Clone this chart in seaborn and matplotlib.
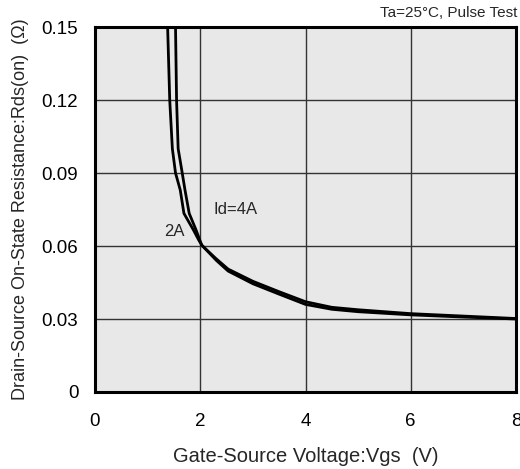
import matplotlib
matplotlib.use("Agg")
import matplotlib.pyplot as plt
import seaborn as sns
import pandas as pd

# Data
vgs_2a = [1.38, 1.42, 1.47, 1.53, 1.62, 1.69, 1.87, 1.97, 2.03, 2.3, 2.53, 3.0, 3.5, 4.0, 4.5, 5.0, 6.0, 7.0, 8.0]
rds_2a = [0.150, 0.120, 0.100, 0.090, 0.083, 0.0734, 0.0666, 0.0625, 0.0603, 0.0548, 0.0505, 0.0455, 0.0412,
          0.0371, 0.0348, 0.0338, 0.0322, 0.0312, 0.0302]
vgs_4a = [1.53, 1.55, 1.58, 1.65, 1.71, 1.79, 1.92, 1.99, 2.03, 2.31, 2.53, 3.0, 3.5, 4.0, 4.5, 5.0, 6.0, 7.0, 8.0]
rds_4a = [0.150, 0.120, 0.100, 0.091, 0.083, 0.0734, 0.0666, 0.0625, 0.0603, 0.0540, 0.0497, 0.0445, 0.0402,
          0.0360, 0.0340, 0.0330, 0.0317, 0.0308, 0.0300]
x_ticks = [0, 2, 4, 6, 8]
y_ticks = [0, 0.03, 0.06, 0.09, 0.12, 0.15]
y_tick_labels = ["0", "0.03", "0.06", "0.09", "0.12", "0.15"]

sns.set_style("white")
plt.rcParams['font.family'] = ['Liberation Sans', 'DejaVu Sans']

fig = plt.figure(figsize=(5.2, 4.69), dpi=100)
ax = fig.add_axes([95/520, 1-392/469, (516-95)/520, (392-27)/469])
ax.set_facecolor("#e8e8e8")

df2 = pd.DataFrame({"Vgs": vgs_2a, "Rds": rds_2a})
df4 = pd.DataFrame({"Vgs": vgs_4a, "Rds": rds_4a})
sns.lineplot(data=df2, x="Vgs", y="Rds", sort=False, color="black", lw=2.0, ax=ax)
sns.lineplot(data=df4, x="Vgs", y="Rds", sort=False, color="black", lw=2.0, ax=ax)

ax.set_xlim(0, 8)
ax.set_ylim(0, 0.15)
ax.set_xticks(x_ticks)
ax.set_yticks(y_ticks)
ax.set_yticklabels(y_tick_labels)
ax.grid(True, color="#333333", lw=1.0)
ax.set_axisbelow(True)
for s in ax.spines.values():
    s.set_linewidth(2.2)
    s.set_color("black")
ax.tick_params(axis="both", length=0, labelsize=13.5, colors="black")
ax.tick_params(axis="x", pad=15)
ax.tick_params(axis="y", pad=12)

ax.set_xlabel("Gate-Source Voltage:Vgs  (V)", fontsize=14.5, labelpad=12)
ax.set_ylabel("Drain-Source On-State Resistance:Rds(on)  (Ω)", fontsize=13, labelpad=9)

ax.text(2.26, 0.075, "Id=4A", fontsize=12, va="center", ha="left")
ax.text(1.31, 0.066, "2A", fontsize=12, va="center", ha="left")
fig.text(517/520, 1-13/469, "Ta=25°C, Pulse Test", fontsize=11, ha="right", va="center")

fig.savefig("out.png", dpi=100)
